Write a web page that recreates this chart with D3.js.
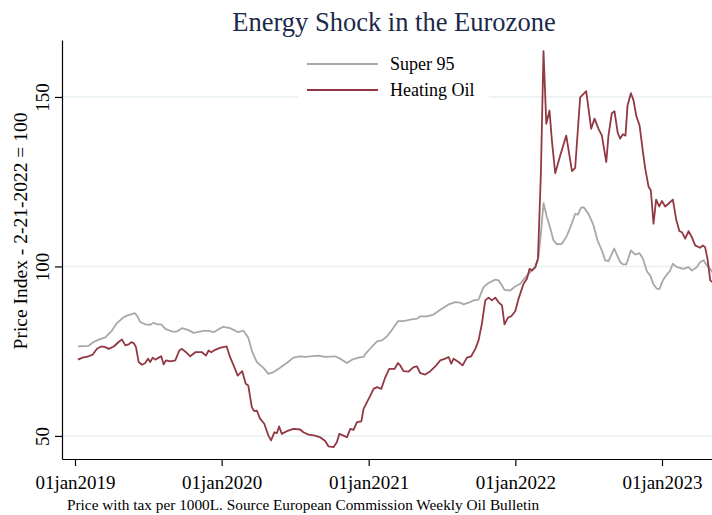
<!DOCTYPE html>
<html>
<head>
<meta charset="utf-8">
<script src="https://cdn.jsdelivr.net/npm/d3@7"></script>
<style>
  body { margin: 0; background: #fff; }
  text { font-family: "Liberation Serif", "Times New Roman", serif; }
</style>
</head>
<body>
<div id="chart"></div>
<script>
// decimal years (date of each weekly reading) and index values
var superYears = [2019.020, 2019.093, 2019.127, 2019.162, 2019.207, 2019.252, 2019.286, 2019.332, 2019.354, 2019.377,
  2019.407, 2019.423, 2019.445, 2019.479, 2019.513, 2019.536, 2019.559, 2019.588, 2019.616, 2019.661,
  2019.695, 2019.729, 2019.770, 2019.809, 2019.843, 2019.877, 2019.911, 2019.945, 2019.980,
  2020.011, 2020.057, 2020.113, 2020.147, 2020.181, 2020.205, 2020.239, 2020.284, 2020.318, 2020.352,
  2020.397, 2020.443, 2020.488, 2020.534, 2020.568, 2020.602, 2020.658, 2020.704, 2020.772, 2020.806,
  2020.852, 2020.886, 2020.931, 2020.965, 2020.977,
  2021.011, 2021.057, 2021.091, 2021.125, 2021.159, 2021.200, 2021.238, 2021.284, 2021.329, 2021.352,
  2021.397, 2021.442, 2021.488, 2021.545, 2021.590, 2021.624, 2021.647, 2021.681, 2021.715, 2021.749,
  2021.783, 2021.817, 2021.863, 2021.885, 2021.909, 2021.926, 2021.965, 2021.999,
  2022.033, 2022.056, 2022.090, 2022.136, 2022.158, 2022.174, 2022.192, 2022.215, 2022.233, 2022.260,
  2022.284, 2022.318, 2022.352, 2022.386, 2022.408, 2022.427, 2022.447, 2022.465, 2022.499, 2022.533,
  2022.560, 2022.590, 2022.613, 2022.635, 2022.658, 2022.674, 2022.697, 2022.715, 2022.733, 2022.756,
  2022.788, 2022.817, 2022.847, 2022.870, 2022.897, 2022.920, 2022.942, 2022.965, 2022.983,
  2023.006, 2023.033, 2023.056, 2023.074, 2023.102, 2023.147, 2023.181, 2023.204, 2023.238, 2023.260,
  2023.283, 2023.306, 2023.329, 2023.342];
var superValues = [76.4, 76.6, 77.7, 78.4, 79.1, 81.1, 83.3, 85.0, 85.5, 85.8,
  86.2, 85.5, 83.6, 82.9, 82.8, 83.4, 82.9, 82.9, 81.6, 80.8,
  80.8, 81.8, 81.3, 80.4, 80.7, 81.0, 81.0, 80.6, 81.5,
  82.2, 81.8, 80.6, 81.1, 79.0, 75.2, 71.8, 70.1, 68.3, 68.8,
  70.1, 71.5, 73.1, 73.5, 73.3, 73.5, 73.7, 73.3, 73.5, 72.8,
  71.5, 72.5, 73.1, 73.3, 74.2,
  75.8, 77.9, 78.2, 79.4, 81.3, 83.9, 83.9, 84.3, 84.6, 85.3,
  85.3, 85.8, 87.2, 88.8, 89.5, 89.3, 88.8, 89.3, 90.0, 90.2,
  93.9, 95.1, 96.1, 95.9, 94.4, 93.1, 92.9, 94.1,
  94.9, 96.1, 97.8, 99.8, 102.7, 109.6, 118.7, 114.5, 112.1, 107.7,
  106.5, 106.7, 109.1, 112.8, 115.5, 115.3, 117.3, 117.5, 115.5, 112.1,
  107.7, 104.7, 101.8, 101.6, 103.7, 105.3, 103.0, 101.3, 100.6, 100.6,
  104.7, 103.5, 103.9, 102.3, 98.6, 97.3, 94.7, 93.4, 93.4,
  95.9, 97.6, 98.8, 100.8, 99.8, 99.3, 99.8, 98.8, 99.8, 101.3,
  101.8, 100.3, 99.3, 98.3];

var oilYears = [2019.020, 2019.052, 2019.093, 2019.121, 2019.150, 2019.179, 2019.207, 2019.230, 2019.264, 2019.298,
  2019.320, 2019.343, 2019.366, 2019.384, 2019.400, 2019.416, 2019.434, 2019.457, 2019.479, 2019.498,
  2019.513, 2019.530, 2019.547, 2019.571, 2019.588, 2019.605, 2019.620, 2019.650, 2019.684, 2019.711,
  2019.729, 2019.757, 2019.786, 2019.820, 2019.866, 2019.893, 2019.911, 2019.929, 2019.956, 2019.988,
  2020.034, 2020.057, 2020.086, 2020.109, 2020.140, 2020.164, 2020.181, 2020.205, 2020.222, 2020.239,
  2020.261, 2020.290, 2020.318, 2020.336, 2020.359, 2020.375, 2020.391, 2020.409, 2020.443, 2020.488,
  2020.534, 2020.556, 2020.590, 2020.636, 2020.670, 2020.704, 2020.727, 2020.761, 2020.784, 2020.800,
  2020.829, 2020.852, 2020.875, 2020.897, 2020.920, 2020.950, 2020.965,
  2021.011, 2021.033, 2021.057, 2021.086, 2021.113, 2021.140, 2021.177, 2021.200, 2021.215, 2021.238,
  2021.272, 2021.306, 2021.329, 2021.352, 2021.386, 2021.420, 2021.454, 2021.488, 2021.522, 2021.545,
  2021.563, 2021.579, 2021.613, 2021.640, 2021.670, 2021.699, 2021.727, 2021.749, 2021.772, 2021.795,
  2021.817, 2021.840, 2021.863, 2021.885, 2021.909, 2021.926, 2021.950, 2021.972, 2021.999,
  2022.022, 2022.056, 2022.079, 2022.097, 2022.113, 2022.136, 2022.154, 2022.174, 2022.192, 2022.211,
  2022.233, 2022.249, 2022.272, 2022.306, 2022.347, 2022.386, 2022.408, 2022.442, 2022.483, 2022.517,
  2022.540, 2022.567, 2022.590, 2022.620, 2022.635, 2022.658, 2022.676, 2022.698, 2022.715, 2022.733,
  2022.751, 2022.765, 2022.788, 2022.806, 2022.824, 2022.847, 2022.870, 2022.886, 2022.908, 2022.924,
  2022.942, 2022.960, 2022.981, 2022.999,
  2023.022, 2023.044, 2023.074, 2023.097, 2023.119, 2023.136, 2023.158, 2023.181, 2023.204, 2023.226,
  2023.260, 2023.279, 2023.294, 2023.310, 2023.329, 2023.342];
var oilValues = [72.5, 73.1, 73.5, 74.0, 75.7, 76.4, 76.2, 75.7, 76.4, 77.7,
  78.5, 76.7, 77.0, 77.7, 77.4, 76.2, 71.8, 71.0, 71.5, 72.8,
  71.8, 73.1, 72.5, 73.1, 73.5, 71.1, 72.3, 72.0, 72.3, 75.2,
  75.7, 74.7, 73.5, 74.7, 74.7, 73.7, 75.2, 74.7, 75.4, 76.0,
  76.4, 73.3, 70.3, 67.8, 69.1, 65.4, 64.9, 58.5, 57.3, 57.5,
  55.1, 53.6, 50.1, 48.7, 51.1, 50.8, 52.8, 50.6, 51.4, 52.1,
  51.9, 51.1, 50.4, 50.1, 49.6, 48.5, 46.9, 46.7, 48.2, 50.6,
  50.1, 49.6, 52.1, 51.8, 54.1, 54.3, 58.0,
  61.9, 63.9, 64.4, 63.9, 67.3, 69.8, 69.8, 71.5, 70.8, 69.1,
  69.0, 70.3, 70.5, 68.5, 68.1, 69.1, 70.5, 72.3, 72.8, 73.3,
  71.3, 72.8, 71.8, 70.8, 73.1, 73.5, 75.7, 78.2, 83.1, 90.0,
  90.8, 90.0, 90.8, 89.5, 88.5, 82.9, 84.9, 85.3, 86.8,
  90.5, 94.9, 96.4, 99.3, 98.8, 99.8, 102.3, 127.3, 163.5, 142.1,
  146.0, 137.2, 127.5, 132.7, 138.6, 128.1, 129.1, 149.9, 151.7, 140.6,
  143.6, 140.6, 138.6, 130.8, 138.6, 145.2, 145.8, 139.4, 137.7, 139.0,
  138.6, 147.5, 151.1, 149.0, 144.5, 141.6, 133.7, 128.8, 123.6, 122.4,
  112.6, 119.7, 117.7, 119.3,
  117.7, 118.5, 119.7, 113.8, 110.4, 110.1, 108.2, 110.4, 108.6, 106.2,
  105.5, 106.2, 105.7, 102.3, 95.9, 95.4];

var seriesNames = ["Super 95", "Heating Oil"];
var yTicks = [50, 100, 150];
var xTickYears = [2019, 2020, 2021, 2022, 2023];

var svgWidth = 712;
var svgHeight = 515;
var plot = { left: 62, right: 712, top: 40, bottom: 459 };
var colors = { super95: "#a8a8a8", oil: "#923843", grid: "#e9f0f2", title: "#1b2a4a" };

function toDate(t) {
  var y = Math.floor(t);
  var a = Date.UTC(y, 0, 1), b = Date.UTC(y + 1, 0, 1);
  return new Date(a + (t - y) * (b - a));
}

var svg = d3.select("#chart")
  .append("svg")
  .attr("width", svgWidth)
  .attr("height", svgHeight);

// x scale: pin the 2019 and 2023 ticks, then stretch to the plot edges
var x = d3.scaleUtc()
  .domain([toDate(2019), toDate(2023)])
  .range([75, 662]);
x.domain([x.invert(plot.left), x.invert(plot.right)]).range([plot.left, plot.right]);

var y = d3.scaleLinear()
  .domain([43.2, 166.8])
  .range([plot.bottom, plot.top]);

// gridlines
svg.append("g")
  .selectAll("line")
  .data(yTicks)
  .enter()
  .append("line")
  .attr("x1", plot.left)
  .attr("x2", plot.right)
  .attr("y1", d => y(d))
  .attr("y2", d => y(d))
  .attr("stroke", colors.grid)
  .attr("stroke-width", 1.5);

svg.append("clipPath")
  .attr("id", "clip")
  .append("rect")
  .attr("x", plot.left)
  .attr("y", plot.top - 5)
  .attr("width", plot.right - plot.left)
  .attr("height", plot.bottom - plot.top + 5);

var line = d3.line()
  .x(d => x(toDate(d[0])))
  .y(d => y(d[1]));

var superData = superYears.map((t, i) => [t, superValues[i]]);
var oilData = oilYears.map((t, i) => [t, oilValues[i]]);

var lines = svg.append("g").attr("clip-path", "url(#clip)");

lines.append("path")
  .datum(superData)
  .attr("d", line)
  .attr("fill", "none")
  .attr("stroke", colors.super95)
  .attr("stroke-width", 1.8)
  .attr("stroke-linejoin", "round");

lines.append("path")
  .datum(oilData)
  .attr("d", line)
  .attr("fill", "none")
  .attr("stroke", colors.oil)
  .attr("stroke-width", 1.8)
  .attr("stroke-linejoin", "round");

// x axis
var xAxis = d3.axisBottom(x)
  .tickValues(xTickYears.map(yr => toDate(yr)))
  .tickFormat(d3.utcFormat("%djan%Y"))
  .tickSizeOuter(0)
  .tickSizeInner(7)
  .tickPadding(10);

var gx = svg.append("g")
  .attr("transform", `translate(0, ${plot.bottom})`)
  .call(xAxis);
gx.select(".domain").attr("stroke", "#000").attr("stroke-width", 1.2);
gx.selectAll(".tick line").attr("stroke", "#000").attr("stroke-width", 1.2);
gx.selectAll(".tick text")
  .attr("fill", "#000")
  .style("font-family", '"Liberation Serif", serif')
  .style("font-size", "19px");

// y axis
var yAxis = d3.axisLeft(y)
  .tickValues(yTicks)
  .tickSizeOuter(0)
  .tickSizeInner(7)
  .tickFormat(d3.format("d"));

var gy = svg.append("g")
  .attr("transform", `translate(${plot.left}, 0)`)
  .call(yAxis);
gy.select(".domain").attr("stroke", "#000").attr("stroke-width", 1.2);
gy.selectAll(".tick line").attr("stroke", "#000").attr("stroke-width", 1.2);
gy.selectAll(".tick text")
  .attr("fill", "#000")
  .attr("x", null)
  .attr("dy", null)
  .attr("transform", "translate(-13, 0) rotate(-90)")
  .attr("text-anchor", "middle")
  .style("font-family", '"Liberation Serif", serif')
  .style("font-size", "19px");

// legend
var legend = svg.append("g");
legend.append("rect")
  .attr("x", 298)
  .attr("y", 46)
  .attr("width", 191)
  .attr("height", 56)
  .attr("fill", "#fff");

var legendItems = [
  { name: seriesNames[0], color: colors.super95, cy: 64 },
  { name: seriesNames[1], color: colors.oil, cy: 90 }
];
legendItems.forEach(function(item) {
  legend.append("line")
    .attr("x1", 307)
    .attr("x2", 378)
    .attr("y1", item.cy)
    .attr("y2", item.cy)
    .attr("stroke", item.color)
    .attr("stroke-width", 1.8);
  legend.append("text")
    .attr("x", 390)
    .attr("y", item.cy + 6)
    .style("font-size", "18px")
    .attr("fill", "#000")
    .text(item.name);
});

// title
svg.append("text")
  .attr("x", 394)
  .attr("y", 31)
  .attr("text-anchor", "middle")
  .attr("fill", colors.title)
  .style("font-size", "26.5px")
  .text("Energy Shock in the Eurozone");

// y axis label
svg.append("text")
  .attr("transform", "translate(27, 231) rotate(-90)")
  .attr("text-anchor", "middle")
  .attr("fill", "#000")
  .style("font-size", "19.5px")
  .text("Price Index - 2-21-2022 = 100");

// note
svg.append("text")
  .attr("x", 67)
  .attr("y", 510)
  .attr("fill", "#000")
  .style("font-size", "15.3px")
  .text("Price with tax per 1000L. Source European Commission Weekly Oil Bulletin");
</script>
</body>
</html>
